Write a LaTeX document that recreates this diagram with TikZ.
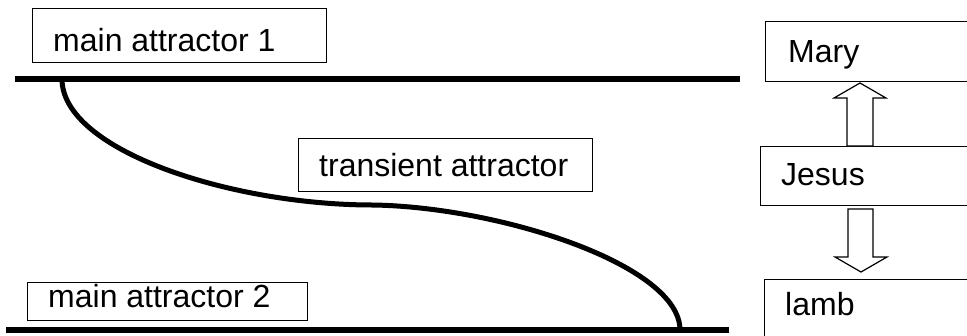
\documentclass[tikz,border=0pt]{standalone}
\usepackage{fontspec}
\setmainfont{Liberation Sans}
\begin{document}
\begin{tikzpicture}[x=1pt,y=-1pt,
  box/.style={draw, line width=1.2pt, rectangle, inner sep=0pt, anchor=north west},
  lbl/.style={font=\fontsize{32}{38}\selectfont, inner sep=0pt, anchor=base west},
  attr/.style={line width=6pt},
  traj/.style={line width=5pt},
  blockarrow/.style={draw, line width=1.2pt, fill=white, line join=miter}]
\useasboundingbox (0,0) rectangle (967,335);
\clip (0,0) rectangle (967,335);
% boxes
\node[box, minimum width=294pt, minimum height=54pt] (b1) at (32,8) {};
\node[lbl] (l1) at (53,51) {main attractor 1};
\node[box, minimum width=294pt, minimum height=53pt] (bt) at (298,138) {};
\node[lbl] (lt) at (319,176) {transient attractor};
\node[box, minimum width=280pt, minimum height=38pt] (b2) at (27,282) {};
\node[lbl] (l2) at (48,307) {main attractor 2};
\node[box, minimum width=240pt, minimum height=60pt] (bm) at (765,21) {};
\node[lbl] (lm) at (788,62) {Mary};
\node[box, minimum width=240pt, minimum height=59pt] (bj) at (760,146) {};
\node[lbl] (lj) at (781,185) {Jesus};
\node[box, minimum width=240pt, minimum height=70pt] (bl) at (764,279) {};
\node[lbl] (ll) at (785,315) {lamb};
% attractor lines
\coordinate (t1) at (15,79);
\coordinate (t2) at (740,79);
\coordinate (u1) at (6,330);
\coordinate (u2) at (729,330);
\draw[attr] (t1) -- (t2);
\draw[attr] (u1) -- (u2);
% trajectory
\coordinate (c0) at (62,79);
\coordinate (cm) at (373,205);
\coordinate (c1) at (680,330);
\draw[traj] (c0) .. controls (62,150) and (230,205) .. (cm)
             .. controls (500,207) and (680,265) .. (c1);
% block arrows
\draw[blockarrow] (847,146) -- (847,98) -- (834,98) -- (860,83) -- (886,98) -- (873,98) -- (873,146) -- cycle;
\draw[blockarrow] (848,209) -- (873,209) -- (873,257) -- (887,257) -- (861,272) -- (835,257) -- (848,257) -- cycle;
\end{tikzpicture}
\end{document}
